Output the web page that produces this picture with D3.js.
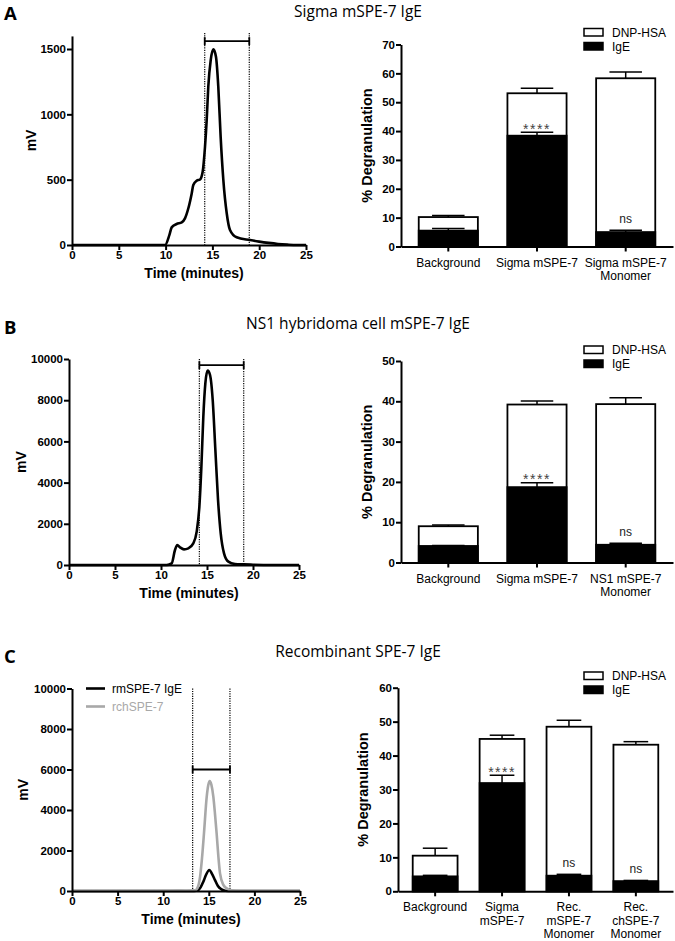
<!DOCTYPE html>
<html><head><meta charset="utf-8">
<script src="https://cdn.jsdelivr.net/npm/d3@7"></script>
<style>
html,body{margin:0;padding:0;background:#fff;}
svg{display:block;}
</style></head>
<body>
<svg id="fig" width="675" height="941"></svg>
<script>
// ---------- DATA ----------
const panelLetters = ["A", "B", "C"];
const panelTitles = ["Sigma mSPE-7 IgE", "NS1 hybridoma cell mSPE-7 IgE", "Recombinant SPE-7 IgE"];

// Chromatograms: [time (min), mV]
const chromA = [[0,0],[9.94,0],[10.4,76],[10.65,135],[11.18,161],[11.72,173],[12.07,204],[12.43,281],[12.79,395],[12.96,459],[13.32,492],[13.68,502],[13.96,561],[14.21,752],[14.39,956],[14.56,1211],[14.82,1415],[15.1,1497],[15.38,1441],[15.63,1211],[15.88,829],[16.17,497],[16.53,243],[16.88,115],[17.59,59],[19.02,38],[20,26],[21,16],[22,8],[23,3],[24,0],[25,0]];
const chromB = [[0,0],[10.62,0],[11.16,82],[11.52,728],[11.77,971],[12.07,857],[12.5,760],[12.97,809],[13.51,1052],[13.88,1618],[14.17,2832],[14.39,4773],[14.6,7200],[14.82,8820],[15.07,9434],[15.33,9223],[15.62,8010],[15.91,5583],[16.2,3155],[16.49,1537],[16.85,566],[17.32,162],[18.04,50],[19,30],[20,15],[22,0],[25,0]];
const chromC_rm = [[0,0],[13.4,0],[13.85,50],[14.1,180],[14.4,460],[14.7,800],[15.06,1036],[15.35,850],[15.68,540],[16.0,250],[16.4,80],[16.8,10],[17.5,0],[25,0]];
const chromC_rch = [[0,0],[10,10],[11.5,20],[12.5,15],[13.5,30],[13.8,200],[14.04,700],[14.25,1600],[14.47,2840],[14.77,4650],[14.95,5250],[15.1,5430],[15.28,5250],[15.5,4650],[15.68,3800],[15.86,2840],[16.05,1700],[16.23,870],[16.6,300],[16.96,130],[17.5,30],[18.5,0],[25,0]];
const chromSeriesC = ["rmSPE-7 IgE", "rchSPE-7"];
const collectWindows = [[14.18, 18.94], [14.17, 18.99], [13.23, 17.32]];
const bracketLevels = [1560, 9700, 6000];
const chromYMax = [1600, 10000, 10000];
const chromYTicks = [[0,500,1000,1500], [0,2000,4000,6000,8000,10000], [0,2000,4000,6000,8000,10000]];
const timeTicks = [0,5,10,15,20,25];

// Degranulation bars
const barSeries = ["DNP-HSA", "IgE"];
const catsA = ["Background", "Sigma mSPE-7", "Sigma mSPE-7\nMonomer"];
const totalA = [10.2, 53.1, 58.3];
const totalErrA = [0.5, 1.7, 2.2];
const igeA = [5.5, 38.4, 5.0];
const igeErrA = [0.7, 1.2, 0.6];
const sigA = ["", "****", "ns"];

const catsB = ["Background", "Sigma mSPE-7", "NS1 mSPE-7\nMonomer"];
const totalB = [9.0, 39.2, 39.3];
const totalErrB = [0.3, 0.9, 1.6];
const igeB = [4.1, 18.7, 4.4];
const igeErrB = [0.1, 1.1, 0.4];
const sigB = ["", "****", "ns"];

const catsC = ["Background", "Sigma\nmSPE-7", "Rec.\nmSPE-7\nMonomer", "Rec.\nchSPE-7\nMonomer"];
const totalC = [10.5, 44.9, 48.5, 43.2];
const totalErrC = [2.2, 1.1, 1.9, 0.9];
const igeC = [4.4, 31.9, 4.6, 3.0];
const igeErrC = [0.3, 2.3, 0.4, 0.2];
const sigC = ["", "****", "ns", "ns"];
const barYMax = [70, 50, 60];

// ---------- DRAW ----------
const svg = d3.select("#fig");
const TITLE_FONT = "'Open Sans', Lato, sans-serif";
const AX_FONT = "'Liberation Sans', Arial, sans-serif";

function styleAxis(g) {
  g.select(".domain").attr("stroke", "#000").attr("stroke-width", 2);
  g.selectAll(".tick line").attr("stroke", "#000").attr("stroke-width", 2);
  g.selectAll(".tick text").attr("font-family", AX_FONT).attr("font-weight", "bold")
    .attr("font-size", 11.5).attr("fill", "#000");
}

function panelHeader(i, letterY, titleY) {
  svg.append("text").attr("x", 4).attr("y", letterY).text(panelLetters[i])
    .attr("font-family", TITLE_FONT).attr("font-weight", "bold").attr("font-size", 18.5);
  svg.append("text").attr("x", 358).attr("y", titleY).attr("text-anchor", "middle")
    .text(panelTitles[i]).attr("font-family", TITLE_FONT).attr("font-size", 15.5);
}

function drawChrom(cfg) {
  const i = cfg.i;
  const x = d3.scaleLinear().domain([0, 25]).range([cfg.x0, cfg.x1]);
  const y = d3.scaleLinear().domain([0, chromYMax[i]]).range([cfg.y0, cfg.yTop]);
  const g = svg.append("g");
  const [wa, wb] = collectWindows[i];
  [wa, wb].forEach(t => {
    g.append("line").attr("x1", x(t)).attr("x2", x(t)).attr("y1", y(chromYMax[i]) - (i === 0 ? 3 : 0)).attr("y2", y(0))
      .attr("stroke", "#000").attr("stroke-width", 1.2).attr("stroke-dasharray", "1.2,1.2");
  });
  const by = y(bracketLevels[i]);
  g.append("line").attr("x1", x(wa)).attr("x2", x(wb)).attr("y1", by).attr("y2", by).attr("stroke", "#000").attr("stroke-width", 1.8);
  [wa, wb].forEach(t => g.append("line").attr("x1", x(t)).attr("x2", x(t)).attr("y1", by - 4).attr("y2", by + 4).attr("stroke", "#000").attr("stroke-width", 1.8));
  const line = d3.line().x(d => x(d[0])).y(d => y(d[1])).curve(d3.curveMonotoneX);
  cfg.series.forEach(s => {
    g.append("path").datum(s.data).attr("d", line).attr("fill", "none")
      .attr("stroke", s.color).attr("stroke-width", 2.6).attr("stroke-linejoin", "round");
  });
  const ya = g.append("g").attr("transform", `translate(${cfg.x0},0)`)
    .call(d3.axisLeft(y).tickValues(chromYTicks[i]).tickSize(5).tickSizeOuter(0).tickPadding(1).tickFormat(d3.format("d")));
  styleAxis(ya);
  const xa = g.append("g").attr("transform", `translate(0,${cfg.y0})`)
    .call(d3.axisBottom(x).tickValues(timeTicks).tickSize(5).tickSizeOuter(0).tickPadding(1));
  styleAxis(xa);
  g.append("text").attr("x", (cfg.x0 + cfg.x1) / 2 + 5).attr("y", cfg.y0 + 33).attr("text-anchor", "middle")
    .text("Time (minutes)").attr("font-family", AX_FONT).attr("font-weight", "bold").attr("font-size", 14);
  g.append("text").attr("transform", `translate(${cfg.labX},${(cfg.y0 + cfg.yTop) / 2}) rotate(-90)`)
    .attr("text-anchor", "middle").text("mV").attr("font-family", AX_FONT).attr("font-weight", "bold").attr("font-size", 14);
  if (cfg.legend) {
    cfg.series.forEach((s, k) => {
      const ly = cfg.yTop + k * 18;
      g.append("line").attr("x1", cfg.x0 + 14).attr("x2", cfg.x0 + 33).attr("y1", ly).attr("y2", ly)
        .attr("stroke", s.color).attr("stroke-width", 2.6);
      g.append("text").attr("x", cfg.x0 + 40).attr("y", ly + 4).text(s.name)
        .attr("font-family", AX_FONT).attr("font-size", 12).attr("fill", s.color);
    });
  }
}

function drawBars(cfg) {
  const i = cfg.i;
  const x = d3.scaleBand().domain(cfg.cats).range([cfg.x0, cfg.x1]).paddingInner(cfg.pin).paddingOuter(cfg.pout);
  const y = d3.scaleLinear().domain([0, barYMax[i]]).range([cfg.y0, cfg.yTop]);
  const g = svg.append("g");
  const bw = x.bandwidth();
  const capW = bw * 0.55;
  cfg.cats.forEach((c, k) => {
    const bx = x(c), cx = bx + bw / 2;
    g.append("rect").attr("x", bx).attr("y", y(cfg.total[k])).attr("width", bw).attr("height", y(0) - y(cfg.total[k]))
      .attr("fill", "#fff").attr("stroke", "#000").attr("stroke-width", 1.8);
    const et = y(cfg.total[k] + cfg.totalErr[k]);
    g.append("line").attr("x1", cx).attr("x2", cx).attr("y1", y(cfg.total[k])).attr("y2", et).attr("stroke", "#000").attr("stroke-width", 1.5);
    g.append("line").attr("x1", cx - capW / 2).attr("x2", cx + capW / 2).attr("y1", et).attr("y2", et).attr("stroke", "#000").attr("stroke-width", 1.5);
    g.append("rect").attr("x", bx).attr("y", y(cfg.ige[k])).attr("width", bw).attr("height", y(0) - y(cfg.ige[k]))
      .attr("fill", "#000").attr("stroke", "#000").attr("stroke-width", 1.8);
    const ei = y(cfg.ige[k] + cfg.igeErr[k]);
    g.append("line").attr("x1", cx).attr("x2", cx).attr("y1", y(cfg.ige[k])).attr("y2", ei).attr("stroke", "#000").attr("stroke-width", 1.5);
    g.append("line").attr("x1", cx - capW / 2).attr("x2", cx + capW / 2).attr("y1", ei).attr("y2", ei).attr("stroke", "#000").attr("stroke-width", 1.5);
    const s = cfg.sig[k];
    if (s === "****") {
      g.append("text").attr("x", cx).attr("y", ei + 1.5).attr("text-anchor", "middle").text(s)
        .attr("font-family", AX_FONT).attr("font-size", 14).attr("letter-spacing", 1.5).attr("fill", "#444");
    } else if (s) {
      g.append("text").attr("x", cx).attr("y", ei - 7).attr("text-anchor", "middle").text(s)
        .attr("font-family", AX_FONT).attr("font-size", 12).attr("fill", "#222");
    }
  });
  const ya = g.append("g").attr("transform", `translate(${cfg.x0},0)`)
    .call(d3.axisLeft(y).tickValues(d3.range(0, barYMax[i] + 1, 10)).tickSize(5).tickSizeOuter(0).tickPadding(1));
  styleAxis(ya);
  const xa = g.append("g").attr("transform", `translate(0,${cfg.y0})`)
    .call(d3.axisBottom(x).tickSize(5).tickSizeOuter(0).tickFormat(""));
  styleAxis(xa);
  cfg.cats.forEach(c => {
    const t = g.append("text").attr("x", x(c) + bw / 2).attr("y", cfg.y0 + 20).attr("text-anchor", "middle")
      .attr("font-family", AX_FONT).attr("font-size", 12).attr("fill", "#000");
    c.split("\n").forEach((ln, j) => t.append("tspan").attr("x", x(c) + bw / 2).attr("dy", j === 0 ? 0 : 13.5).text(ln));
  });
  g.append("text").attr("transform", `translate(${cfg.labX},${(cfg.y0 + cfg.yTop) / 2}) rotate(-90)`)
    .attr("text-anchor", "middle").text("% Degranulation").attr("font-family", AX_FONT).attr("font-weight", "bold").attr("font-size", 14.5);
  barSeries.forEach((nm, k) => {
    const ly = cfg.legY + k * 14;
    g.append("rect").attr("x", 584).attr("y", ly).attr("width", 19).attr("height", 7.5)
      .attr("fill", k === 0 ? "#fff" : "#000").attr("stroke", "#000").attr("stroke-width", 1.5);
    g.append("text").attr("x", 612).attr("y", ly + 8).text(nm).attr("font-family", AX_FONT).attr("font-size", 12);
  });
}

// Panel A
panelHeader(0, 20, 17);
drawChrom({i: 0, x0: 72, x1: 306, y0: 245, yTop: 245 - 1600 * (196 / 1500), labX: 36,
  series: [{name: "Sigma", data: chromA, color: "#000"}]});
drawBars({i: 0, cats: catsA, total: totalA, totalErr: totalErrA, ige: igeA, igeErr: igeErrA, sig: sigA,
  x0: 401, x1: 673, pin: 1 / 3, pout: 0.2, y0: 246.5, yTop: 44.5, labX: 372, legY: 28.5});

// Panel B
panelHeader(1, 333.5, 329);
drawChrom({i: 1, x0: 69, x1: 299, y0: 565, yTop: 359, labX: 26,
  series: [{name: "NS1", data: chromB, color: "#000"}]});
drawBars({i: 1, cats: catsB, total: totalB, totalErr: totalErrB, ige: igeB, igeErr: igeErrB, sig: sigB,
  x0: 401, x1: 673, pin: 1 / 3, pout: 0.2, y0: 562.5, yTop: 361, labX: 372, legY: 346});

// Panel C
panelHeader(2, 662.5, 657);
drawChrom({i: 2, x0: 72, x1: 300, y0: 891, yTop: 688.5, labX: 28, legend: true,
  series: [{name: chromSeriesC[0], data: chromC_rm, color: "#000"}, {name: chromSeriesC[1], data: chromC_rch, color: "#a8a8a8"}]});
drawBars({i: 2, cats: catsC, total: totalC, totalErr: totalErrC, ige: igeC, igeErr: igeErrC, sig: sigC,
  x0: 398, x1: 673, pin: 0.33, pout: 0.22, y0: 891.3, yTop: 687.7, labX: 368, legY: 672});
</script>
</body></html>
